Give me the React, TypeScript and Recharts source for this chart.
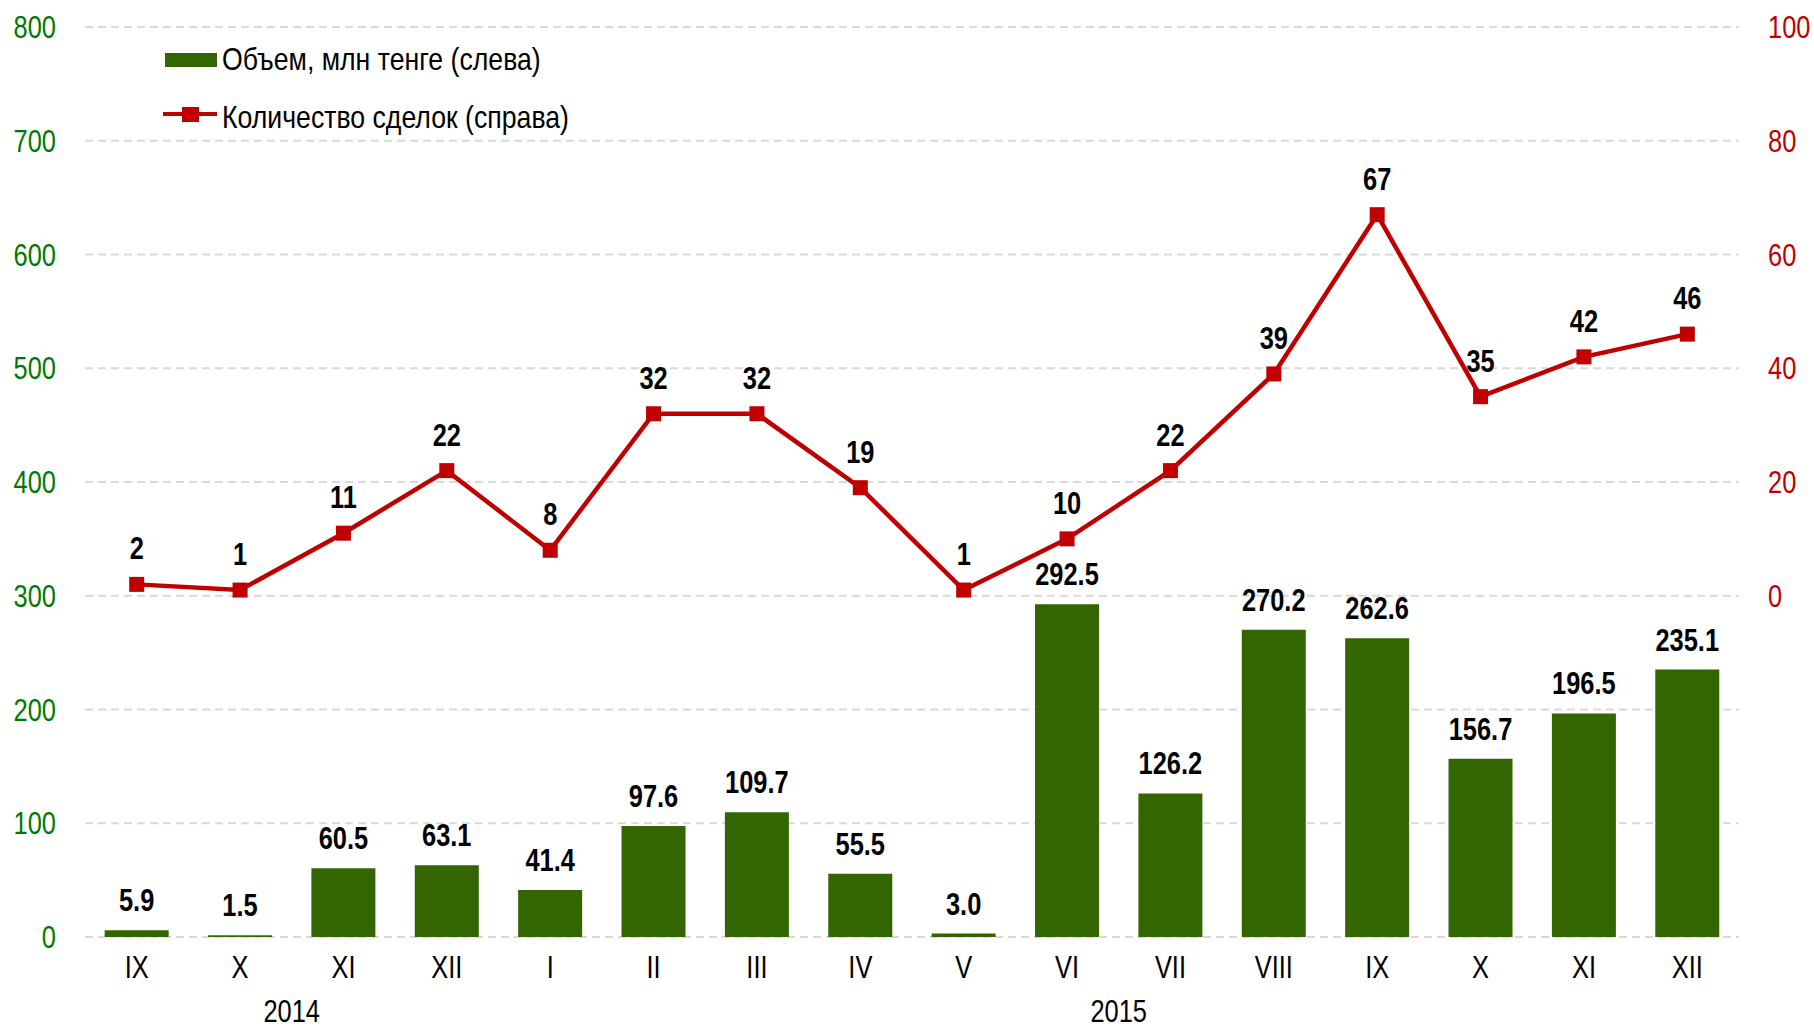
import React from 'react';
import {
    ComposedChart,
    Bar,
    Line,
    XAxis,
    YAxis,
    CartesianGrid,
    LabelList,
} from 'recharts';

const months = ['IX', 'X', 'XI', 'XII', 'I', 'II', 'III', 'IV', 'V', 'VI', 'VII', 'VIII', 'IX', 'X', 'XI', 'XII'];
const volume = [5.9, 1.5, 60.5, 63.1, 41.4, 97.6, 109.7, 55.5, 3.0, 292.5, 126.2, 270.2, 262.6, 156.7, 196.5, 235.1];
const deals = [2, 1, 11, 22, 8, 32, 32, 19, 1, 10, 22, 39, 67, 35, 42, 46];
const leftTicks = [0, 100, 200, 300, 400, 500, 600, 700, 800];
const rightTicks = [0, 20, 40, 60, 80, 100];
const yearLabels = ['2014', '2015'];
const yearStart = [0, 4];
const yearEnd = [3, 15];
const legendNames = ['Объем, млн тенге (слева)', 'Количество сделок (справа)'];

const FONT = "'Liberation Sans', Arial, sans-serif";
const GREEN = '#336600';
const RED = '#C00000';
const SQUEEZE = 0.82; // fake Arial Narrow

const data = months.map((m, i) => ({ month: m, volume: volume[i], deals: deals[i] }));

// text squeezed horizontally to look like a narrow font
const NarrowText = ({ x, y, anchor = 'middle', size = 31, fill = '#000', bold = false, squeeze = SQUEEZE, children }: any) => (
    <text
        transform={`translate(${x},${y}) scale(${squeeze},1)`}
        textAnchor={anchor}
        fontSize={size}
        fontWeight={bold ? 'bold' : 'normal'}
        fill={fill}
        fontFamily={FONT}
    >
        {children}
    </text>
);

const MonthTick = (props: any) => {
    const { x, y, payload, index, width, visibleTicksCount } = props;
    const band = width / visibleTicksCount;
    const yi = yearStart.indexOf(index);
    return (
        <g>
            <NarrowText x={x} y={y + 41}>{payload.value}</NarrowText>
            {yi >= 0 && (
                <NarrowText x={x + ((yearEnd[yi] - yearStart[yi]) / 2) * band} y={y + 85}>
                    {yearLabels[yi]}
                </NarrowText>
            )}
        </g>
    );
};

const LeftTick = (props: any) => (
    <NarrowText x={props.x - 29} y={props.y + 11} anchor="end" fill="#007A00">
        {props.payload.value}
    </NarrowText>
);

const RightTick = (props: any) => (
    <NarrowText x={props.x + 29} y={props.y + 11} anchor="start" fill={RED}>
        {props.payload.value}
    </NarrowText>
);

const BarLabel = (props: any) => {
    const { x, y, width, value } = props;
    return (
        <NarrowText x={x + width / 2} y={y - 19} bold>
            {Number(value).toFixed(1)}
        </NarrowText>
    );
};

const LineLabel = (props: any) => {
    const { x, y, value } = props;
    return (
        <NarrowText x={x} y={y - 25} bold>
            {value}
        </NarrowText>
    );
};

const SquareDot = (props: any) => {
    const { cx, cy } = props;
    if (cx == null || cy == null) return null;
    return <rect x={cx - 7.5} y={cy - 7.5} width={15} height={15} fill={RED} />;
};

const LegendBox = () => (
    <svg
        width={700}
        height={150}
        style={{ position: 'absolute', left: 0, top: 0, pointerEvents: 'none' }}
    >
        <rect x={165} y={53} width={52} height={14} fill={GREEN} />
        <NarrowText x={222} y={70} anchor="start" size={31} squeeze={0.86}>{legendNames[0]}</NarrowText>
        <line x1={163} y1={114} x2={217} y2={114} stroke={RED} strokeWidth={4} />
        <rect x={182} y={107} width={17} height={15} fill={RED} />
        <NarrowText x={222} y={128} anchor="start" size={31} squeeze={0.86}>{legendNames[1]}</NarrowText>
    </svg>
);

export default function App() {
    return (
        <div style={{ position: 'absolute', left: 0, top: 0, width: 1814, height: 1031, background: '#fff' }}>
            <ComposedChart
                width={1814}
                height={1031}
                data={data}
                margin={{ top: 27, right: 0, bottom: 0, left: 0 }}
                barCategoryGap="19%"
            >
                <CartesianGrid
                    yAxisId="left"
                    vertical={false}
                    stroke="#D9D9D9"
                    strokeWidth={2}
                    strokeDasharray="8 5"
                />
                <XAxis
                    dataKey="month"
                    axisLine={false}
                    tickLine={false}
                    tickSize={0}
                    tickMargin={0}
                    height={94}
                    interval={0}
                    tick={<MonthTick />}
                />
                <YAxis
                    yAxisId="left"
                    orientation="left"
                    width={85}
                    domain={[0, 800]}
                    ticks={leftTicks}
                    axisLine={false}
                    tickLine={false}
                    tickSize={0}
                    tickMargin={0}
                    tick={<LeftTick />}
                />
                <YAxis
                    yAxisId="right"
                    orientation="right"
                    width={75}
                    domain={[-60, 100]}
                    ticks={rightTicks}
                    axisLine={false}
                    tickLine={false}
                    tickSize={0}
                    tickMargin={0}
                    tick={<RightTick />}
                />
                <Bar yAxisId="left" dataKey="volume" fill={GREEN} isAnimationActive={false}>
                    <LabelList dataKey="volume" content={<BarLabel />} />
                </Bar>
                <Line
                    yAxisId="right"
                    dataKey="deals"
                    stroke={RED}
                    strokeWidth={4.5}
                    dot={<SquareDot />}
                    activeDot={false}
                    isAnimationActive={false}
                >
                    <LabelList dataKey="deals" content={<LineLabel />} />
                </Line>
            </ComposedChart>
            <LegendBox />
        </div>
    );
}
